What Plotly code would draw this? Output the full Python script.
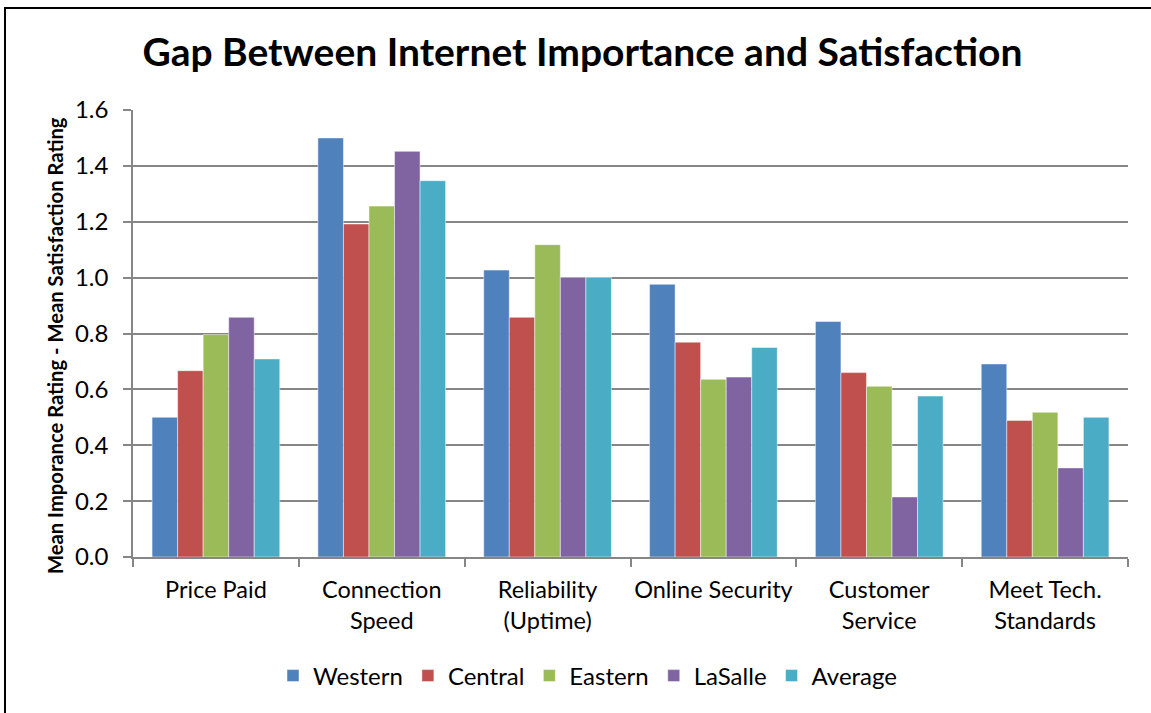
import plotly.graph_objects as go

categories = ["Price Paid", "Connection<br>Speed", "Reliability<br>(Uptime)",
              "Online Security", "Customer<br>Service", "Meet Tech.<br>Standards"]
western = [0.50, 1.50, 1.027, 0.976, 0.843, 0.691]
central = [0.667, 1.192, 0.858, 0.769, 0.660, 0.489]
eastern = [0.796, 1.256, 1.118, 0.636, 0.611, 0.518]
lasalle = [0.858, 1.452, 1.001, 0.644, 0.215, 0.319]
average = [0.709, 1.347, 1.001, 0.750, 0.576, 0.500]
y_ticks = [0.0, 0.2, 0.4, 0.6, 0.8, 1.0, 1.2, 1.4, 1.6]

series = [("Western", western, "#4F81BD"), ("Central", central, "#C0504D"),
          ("Eastern", eastern, "#9BBB59"), ("LaSalle", lasalle, "#8064A2"),
          ("Average", average, "#4BACC6")]

FONT = "Lato, Open Sans, sans-serif"

fig = go.Figure()
for name, vals, col in series:
    fig.add_trace(go.Bar(x=categories, y=vals, name=name,
                         marker=dict(color=col, line=dict(color="rgba(255,255,255,0.6)", width=0.8))))

W, H = 1151, 713
L, R, T, B = 133, 23, 110, 156
pw, ph = W - L - R, H - T - B

fig.update_layout(
    width=W, height=H,
    margin=dict(l=L, r=R, t=T, b=B),
    paper_bgcolor="white", plot_bgcolor="white",
    barmode="group", bargap=0.23, bargroupgap=0,
    font=dict(family=FONT, size=24, color="black"),
    title=dict(text="<b>Gap Between Internet Importance and Satisfaction</b>",
               x=0.506, xanchor="center", y=1 - 52 / H, yanchor="middle",
               font=dict(family=FONT, size=39, color="black")),
    legend=dict(orientation="h", x=(588 - L) / pw, xanchor="center", y=-(676 - 557) / ph, yanchor="middle",
                font=dict(size=24), itemwidth=30, traceorder="normal", tracegroupgap=0),
    xaxis=dict(showline=True, linecolor="#868686", linewidth=1.5,
               ticks="outside", tickson="boundaries", ticklen=8, tickcolor="#868686", tickwidth=1.5,
               tickfont=dict(size=23.5), showgrid=False, ticklabelstandoff=11,
               tickangle=0, automargin=False),
    yaxis=dict(range=[0, 1.6], tickvals=y_ticks, ticktext=[f"{v:.1f}" for v in y_ticks],
               showline=True, linecolor="#868686", linewidth=1.5,
               ticks="outside", ticklen=8, tickcolor="#868686", tickwidth=1.5,
               showgrid=True, gridcolor="#868686", gridwidth=1.5,
               tickfont=dict(size=24), zeroline=False, ticklabelstandoff=10, automargin=False),
)

fig.add_annotation(text="<b>Mean Imporance Rating - Mean Satisfaction Rating</b>",
                   xref="paper", yref="paper", x=(55 - L) / pw, y=(557 - 346) / ph,
                   xanchor="center", yanchor="middle", textangle=-90, showarrow=False,
                   font=dict(family=FONT, size=20.2, color="black"))

fig.add_shape(type="rect", xref="paper", yref="paper",
              x0=(5 - L) / pw, x1=(1170 - L) / pw, y0=-(730 - 557) / ph, y1=1 + (T - 8) / ph,
              line=dict(color="black", width=2), fillcolor="rgba(0,0,0,0)", layer="below")

fig.write_html("out.html", config={"displayModeBar": False},
               post_script="document.body.style.margin='0';")
